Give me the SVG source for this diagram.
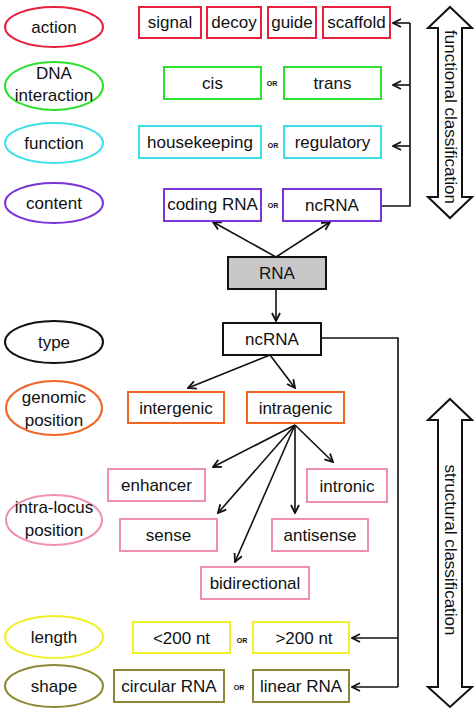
<svg xmlns="http://www.w3.org/2000/svg" width="474" height="713" viewBox="0 0 474 713">
<style>
text{font-family:"Liberation Sans",Arial,sans-serif;font-size:17px;fill:#111;text-anchor:middle;dominant-baseline:central}
.or{font-size:7px;font-weight:bold}
rect,ellipse{fill:#fff;stroke-width:2}
.red{stroke:#e8203c}.grn{stroke:#2ee02e}.cyn{stroke:#3ee0e8}.pur{stroke:#7a34d8}.blk{stroke:#111}
.org{stroke:#f06424}.pnk{stroke:#f090b0}.yel{stroke:#f0f028}.olv{stroke:#8c8834}
.c{fill:none;stroke:#111;stroke-width:1.6}
.a{marker-end:url(#ah)}
.dbl{fill:#fff;stroke:#111;stroke-width:2;stroke-linejoin:miter}
</style>
<defs>
<marker id="ah" viewBox="0 0 10 10" refX="9" refY="5" markerWidth="10" markerHeight="10" markerUnits="userSpaceOnUse" orient="auto">
<path d="M1,1 L9,5 L1,9" fill="none" stroke="#111" stroke-width="1.8"/>
</marker>
</defs>

<g id="connectors">
<path class="c" d="M381,206 H410 V23"/>
<path class="c a" d="M410,23 H393"/>
<path class="c a" d="M410,85 H393"/>
<path class="c a" d="M410,146 H393"/>
<path class="c a" d="M276,257 L213,222"/>
<path class="c a" d="M276,257 L330,222"/>
<path class="c a" d="M276,289 V321"/>
<path class="c a" d="M270,355 L188,388"/>
<path class="c a" d="M270,355 L295,388"/>
<path class="c a" d="M295,425 L213,467"/>
<path class="c a" d="M295,425 L218,513"/>
<path class="c a" d="M295,425 L235,562"/>
<path class="c a" d="M295,425 L295,513"/>
<path class="c a" d="M295,425 L333,462"/>
<path class="c" d="M321,338 H398 V687"/>
<path class="c a" d="M398,638 H352"/>
<path class="c a" d="M398,687 H352"/>
</g>

<g id="functional-classification">
<polygon class="dbl" points="450,7 472,28 462,28 462,197 472,197 450,218 428,197 438,197 438,28 428,28"/>
<text transform="translate(450,117) rotate(90)">functional classification</text>
</g>
<g id="structural-classification">
<polygon class="dbl" points="450,399 472,420 462,420 462,687 472,687 450,707 428,687 438,687 438,420 428,420"/>
<text transform="translate(450,550) rotate(90)">structural classification</text>
</g>

<g id="action"><ellipse class="red" cx="54" cy="27" rx="49" ry="20"/><text x="54" y="27">action</text></g>
<g id="signal"><rect class="red" x="139" y="7" width="62" height="31"/><text x="170" y="22.5">signal</text></g>
<g id="decoy"><rect class="red" x="207" y="7" width="54" height="31"/><text x="234" y="22.5">decoy</text></g>
<g id="guide"><rect class="red" x="268" y="7" width="48" height="31"/><text x="292" y="22.5">guide</text></g>
<g id="scaffold"><rect class="red" x="323" y="7" width="67" height="31"/><text x="356.5" y="22.5">scaffold</text></g>

<g id="dna-interaction"><ellipse class="grn" cx="54" cy="86" rx="49" ry="24"/><text x="54" y="73">DNA</text><text x="54" y="95">interaction</text></g>
<g id="cis"><rect class="grn" x="164" y="67" width="97" height="32"/><text x="212.5" y="83">cis</text></g>
<text class="or" x="272" y="83">OR</text>
<g id="trans"><rect class="grn" x="284" y="67" width="97" height="32"/><text x="332.5" y="83">trans</text></g>

<g id="function"><ellipse class="cyn" cx="54" cy="143" rx="49" ry="20"/><text x="54" y="143">function</text></g>
<g id="housekeeping"><rect class="cyn" x="139" y="126" width="122" height="32"/><text x="200" y="142">housekeeping</text></g>
<text class="or" x="273" y="145">OR</text>
<g id="regulatory"><rect class="cyn" x="284" y="126" width="97" height="32"/><text x="332.5" y="142">regulatory</text></g>

<g id="content"><ellipse class="pur" cx="54" cy="203" rx="49" ry="20"/><text x="54" y="203">content</text></g>
<g id="coding-rna"><rect class="pur" x="164" y="189" width="97" height="32"/><text x="212.5" y="204">coding RNA</text></g>
<text class="or" x="273" y="205">OR</text>
<g id="ncrna-top"><rect class="pur" x="283" y="189" width="98" height="32"/><text x="332" y="205">ncRNA</text></g>

<g id="rna"><rect x="228" y="257" width="98" height="32" fill="#c8c8c8" style="fill:#c8c8c8" class="blk"/><text x="277" y="273">RNA</text></g>

<g id="type"><ellipse class="blk" cx="54" cy="342" rx="49" ry="21"/><text x="54" y="342">type</text></g>
<g id="ncrna"><rect class="blk" x="223" y="323" width="98" height="32"/><text x="272" y="339">ncRNA</text></g>

<g id="genomic-position"><ellipse class="org" cx="54" cy="408" rx="48" ry="27"/><text x="54" y="397">genomic</text><text x="54" y="420">position</text></g>
<g id="intergenic"><rect class="org" x="128" y="392" width="96" height="31"/><text x="176" y="408">intergenic</text></g>
<g id="intragenic"><rect class="org" x="247" y="392" width="97" height="31"/><text x="295.5" y="408">intragenic</text></g>

<g id="intra-locus-position"><ellipse class="pnk" cx="54" cy="520" rx="48" ry="25"/><text x="54" y="507">intra-locus</text><text x="54" y="530">position</text></g>
<g id="enhancer"><rect class="pnk" x="108" y="469" width="97" height="32"/><text x="156.5" y="485">enhancer</text></g>
<g id="intronic"><rect class="pnk" x="307" y="469" width="80" height="33"/><text x="347" y="486">intronic</text></g>
<g id="sense"><rect class="pnk" x="120" y="519" width="97" height="32"/><text x="168.5" y="535">sense</text></g>
<g id="antisense"><rect class="pnk" x="272" y="519" width="96" height="32"/><text x="320" y="535">antisense</text></g>
<g id="bidirectional"><rect class="pnk" x="201" y="567" width="108" height="32"/><text x="255" y="583">bidirectional</text></g>

<g id="length"><ellipse class="yel" cx="54" cy="637" rx="49" ry="21"/><text x="54" y="637">length</text></g>
<g id="lt200"><rect class="yel" x="133" y="622" width="97" height="31"/><text x="181.5" y="638">&lt;200 nt</text></g>
<text class="or" x="242" y="640">OR</text>
<g id="gt200"><rect class="yel" x="253" y="622" width="96" height="31"/><text x="304" y="638">&gt;200 nt</text></g>

<g id="shape"><ellipse class="olv" cx="54" cy="686" rx="49" ry="21"/><text x="54" y="686">shape</text></g>
<g id="circular-rna"><rect class="olv" x="114" y="670" width="110" height="32"/><text x="169" y="686">circular RNA</text></g>
<text class="or" x="239" y="687">OR</text>
<g id="linear-rna"><rect class="olv" x="253" y="670" width="96" height="32"/><text x="301" y="686">linear RNA</text></g>
</svg>
